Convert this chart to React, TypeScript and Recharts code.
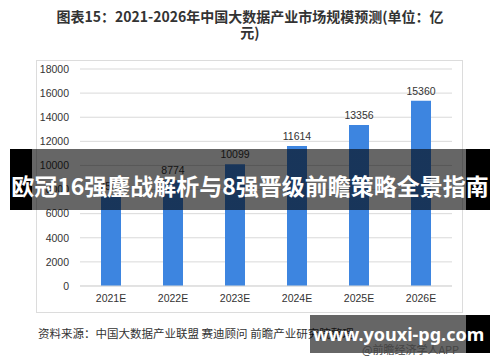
import { BarChart, Bar, XAxis, YAxis, CartesianGrid, LabelList } from "recharts"

const years = ["2021E", "2022E", "2023E", "2024E", "2025E", "2026E"]
const marketSize = [7500, 8774, 10099, 11614, 13356, 15360]
const yTicks = [0, 2000, 4000, 6000, 8000, 10000, 12000, 14000, 16000, 18000]

const data = years.map((year, i) => ({ year, value: marketSize[i] }))

const cjk = '"Microsoft YaHei", "Noto Sans CJK SC", sans-serif'
const num = '"Liberation Sans", "Noto Sans CJK SC", sans-serif'

export default function App() {
  return (
    <div
      style={{
        position: "fixed",
        left: 0,
        top: 0,
        width: 500,
        height: 362,
        background: "#fff",
        overflow: "hidden",
        fontFamily: cjk,
      }}
    >
      {/* title */}
      <div
        style={{
          position: "absolute",
          left: 0,
          top: 8,
          width: 500,
          textAlign: "center",
          fontSize: 14,
          fontWeight: 700,
          color: "#333",
          lineHeight: "16px",
        }}
      >
        图表15：2021-2026年中国大数据产业市场规模预测(单位：亿
        <br />
        元)
      </div>

      {/* chart box */}
      <div
        style={{
          position: "absolute",
          left: 36,
          top: 60,
          width: 427,
          height: 253,
          border: "1px solid #dcdcdc",
          boxSizing: "border-box",
        }}
      >
        <BarChart
          width={427}
          height={253}
          data={data}
          margin={{ top: 8, right: 12, left: 0, bottom: 8 }}
          barSize={20}
        >
          <CartesianGrid vertical={false} stroke="#d9d9d9" />
          <XAxis
            dataKey="year"
            axisLine={{ stroke: "#d9d9d9" }}
            tickLine={false}
            height={20}
            tickMargin={3}
            tick={{ fontSize: 10.5, fill: "#333", fontFamily: num }}
          />
          <YAxis
            width={43}
            domain={[0, 18000]}
            ticks={yTicks}
            axisLine={false}
            tickLine={false}
            tickMargin={5}
            interval={0}
            tick={{ fontSize: 10.5, fill: "#333", fontFamily: num }}
          />
          <Bar dataKey="value" fill="#3d85e0" isAnimationActive={false}>
            <LabelList
              dataKey="value"
              position="top"
              offset={6}
              style={{ fontSize: 10.5, fill: "#333", fontFamily: num }}
            />
          </Bar>
        </BarChart>
      </div>

      {/* source */}
      <div
        style={{
          position: "absolute",
          left: 38,
          top: 325,
          fontSize: 11.5,
          color: "#333",
          whiteSpace: "nowrap",
          lineHeight: "16px",
        }}
      >
        资料来源：中国大数据产业联盟 赛迪顾问 前瞻产业研究院整理
      </div>

      {/* banner overlay */}
      <div
        style={{
          position: "absolute",
          left: 10,
          top: 149,
          width: 480,
          height: 61,
          background: "linear-gradient(to right, #000 0, #000 22px, rgba(0,0,0,0.6) 22px, rgba(0,0,0,0.6) 456px, #000 456px)",
        }}
      />
      <div
        style={{
          position: "absolute",
          left: 0,
          top: 170,
          width: 500,
          textAlign: "center",
          fontSize: 23,
          fontWeight: 700,
          color: "#fff",
          lineHeight: "30px",
          whiteSpace: "nowrap",
        }}
      >
        欧冠16强鏖战解析与8强晋级前瞻策略全景指南
      </div>

      {/* site watermark */}
      <div
        style={{
          position: "absolute",
          left: 310,
          top: 315,
          width: 180,
          height: 38,
          background: "linear-gradient(to right, rgba(0,0,0,0.6) 0, rgba(0,0,0,0.6) 156px, #000 156px)",
        }}
      />
      <div
        style={{
          position: "absolute",
          left: 362,
          top: 342,
          fontSize: 11,
          color: "#444",
          whiteSpace: "nowrap",
          lineHeight: "14px",
        }}
      >
        @前瞻经济学人APP
      </div>
      <div
        style={{
          position: "absolute",
          left: 313,
          top: 322,
          fontSize: 18,
          fontWeight: 700,
          color: "#fff",
          fontFamily: '"Noto Sans", "DejaVu Sans", sans-serif',
          whiteSpace: "nowrap",
          lineHeight: "24px",
        }}
      >
        www.youxi-pg.com
      </div>
    </div>
  )
}
